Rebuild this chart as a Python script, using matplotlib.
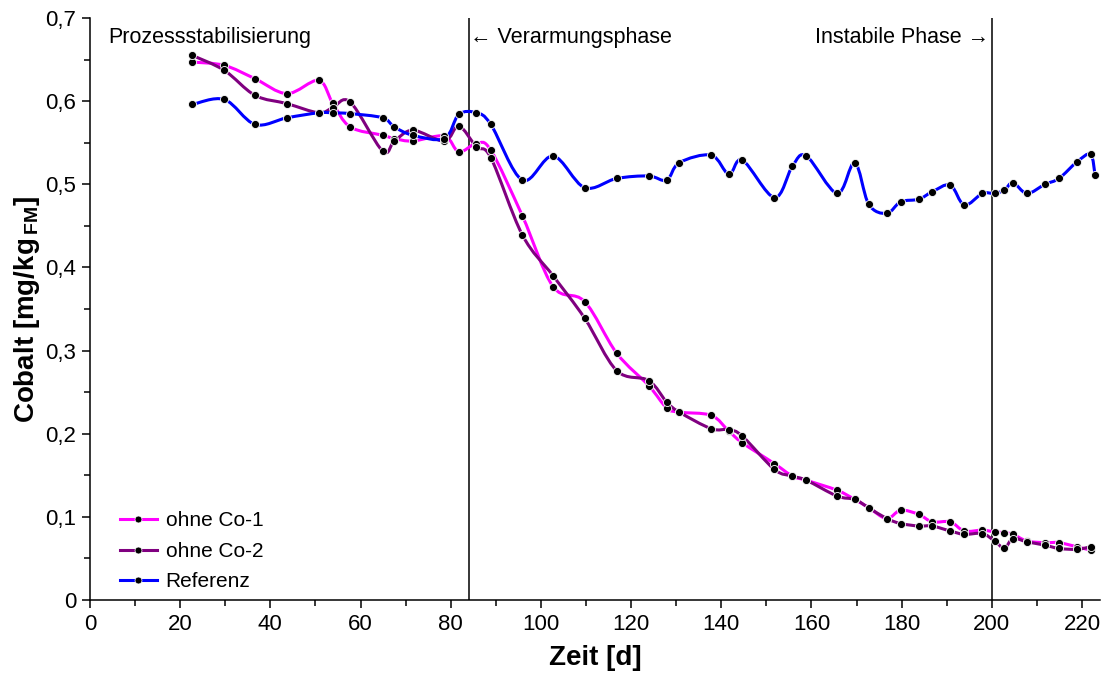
import matplotlib
matplotlib.use("Agg")
import matplotlib.pyplot as plt
import numpy as np
from matplotlib.path import Path
from matplotlib.patches import PathPatch
from matplotlib.lines import Line2D
from matplotlib.ticker import MultipleLocator, FuncFormatter

plt.rcParams['font.family'] = ['Liberation Sans', 'DejaVu Sans']
plt.rcParams['mathtext.fontset'] = 'custom'
plt.rcParams['mathtext.rm'] = 'Liberation Sans'
plt.rcParams['mathtext.bf'] = 'Liberation Sans:bold'

# Probenahmetage (d)
tage = [22.7, 29.8, 36.6, 43.7, 50.7, 53.8, 57.7, 64.9, 67.5, 71.6, 78.6, 81.8,
        85.7, 88.9, 95.9, 102.7, 109.7, 116.8, 123.9, 127.9, 130.7, 137.8, 141.7,
        144.7, 151.8, 155.8, 158.9, 165.7, 169.6, 172.7, 176.7, 179.8, 183.8,
        186.8, 190.8, 193.9, 197.9, 200.6, 202.8, 204.7, 207.8, 211.8, 214.9,
        218.9, 221.9]
tage_ref = tage[:-1] + [221.9, 222.9]

ohne_co1 = [0.647, 0.643, 0.627, 0.609, 0.625, 0.598, 0.569, 0.559, 0.555, 0.552,
            0.558, 0.539, 0.549, 0.541, 0.462, 0.377, 0.359, 0.297, 0.258, 0.231,
            0.226, 0.222, 0.203, 0.189, 0.164, 0.149, 0.144, 0.132, 0.121, 0.111,
            0.098, 0.108, 0.103, 0.094, 0.094, 0.083, 0.084, 0.082, 0.081, 0.079,
            0.071, 0.069, 0.069, 0.064, 0.060]
ohne_co2 = [0.655, 0.637, 0.607, 0.597, 0.586, 0.592, 0.599, 0.540, 0.552, 0.565,
            0.552, 0.570, 0.545, 0.532, 0.439, 0.390, 0.339, 0.276, 0.264, 0.238,
            0.226, 0.206, 0.205, 0.197, 0.157, 0.149, 0.144, 0.125, 0.121, 0.111,
            0.098, 0.092, 0.089, 0.089, 0.083, 0.079, 0.080, 0.071, 0.0625, 0.074,
            0.070, 0.066, 0.062, 0.061, 0.064]
referenz = [0.596, 0.602, 0.572, 0.580, 0.586, 0.586, 0.585, 0.580, 0.569, 0.559,
            0.555, 0.584, 0.586, 0.572, 0.505, 0.534, 0.496, 0.507, 0.510, 0.505,
            0.526, 0.535, 0.512, 0.529, 0.484, 0.522, 0.534, 0.489, 0.526, 0.476,
            0.465, 0.479, 0.482, 0.491, 0.499, 0.475, 0.489, 0.489, 0.493, 0.502,
            0.489, 0.500, 0.507, 0.527, 0.536, 0.511]

serien = [
    ("ohne Co-1", tage, ohne_co1, "#FF00FF"),
    ("ohne Co-2", tage, ohne_co2, "#800080"),
    ("Referenz", tage_ref, referenz, "#0000FF"),
]


def glatte_kurve(x, y):
    # Excel-artige Glättung (Catmull-Rom als Bezier)
    p = np.column_stack([x, y])
    n = len(p)
    verts = [p[0]]
    codes = [Path.MOVETO]
    for i in range(n - 1):
        p0 = p[i - 1] if i > 0 else p[i]
        p3 = p[i + 2] if i + 2 < n else p[i + 1]
        c1 = p[i] + (p[i + 1] - p0) / 6.0
        c2 = p[i + 1] - (p3 - p[i]) / 6.0
        verts += [c1, c2, p[i + 1]]
        codes += [Path.CURVE4] * 3
    return Path(verts, codes)


fig = plt.figure(figsize=(11.05, 6.79), dpi=100)
ax = fig.add_axes([0.0814, 0.1163, 0.9141, 0.8572])

handles = []
for i, (name, x, y, farbe) in enumerate(serien):
    patch = PathPatch(glatte_kurve(x, y), facecolor='none', edgecolor=farbe,
                      lw=2.2, zorder=2 + i)
    ax.add_patch(patch)
    ax.plot(x, y, ls='none', marker='o', ms=5.8, mfc='black', mec='white',
            mew=0.6, zorder=10)
    handles.append(Line2D([], [], color=farbe, lw=2.2, marker='o', ms=5,
                          mfc='black', mec='white', mew=0.5, label=name))

ax.axvline(84, color='black', lw=1.1, zorder=1)
ax.axvline(200, color='black', lw=1.1, zorder=1)

ax.text(4, 0.677, "Prozessstabilisierung", fontsize=15.5, va='center', ha='left')
ax.text(84.3, 0.677, "\u2190 Verarmungsphase", fontsize=15.5, va='center', ha='left')
ax.text(160.9, 0.677, "Instabile Phase \u2192", fontsize=15.5, va='center', ha='left')

ax.set_xlim(0, 224)
ax.set_ylim(0, 0.7)
ax.xaxis.set_major_locator(MultipleLocator(20))
ax.xaxis.set_minor_locator(MultipleLocator(10))
ax.yaxis.set_major_locator(MultipleLocator(0.1))
ax.yaxis.set_minor_locator(MultipleLocator(0.05))
ax.yaxis.set_major_formatter(FuncFormatter(lambda v, p: f"{v:.1f}".replace('.', ',') if v > 0 else "0"))
ax.tick_params(which='major', direction='out', length=6, width=1.1, labelsize=16, pad=4)
ax.tick_params(which='minor', direction='out', length=4, width=1.1)

for s in ['top', 'right']:
    ax.spines[s].set_visible(False)
for s in ['left', 'bottom']:
    ax.spines[s].set_linewidth(1.1)

ax.set_xlabel("Zeit [d]", fontsize=20, fontweight='bold', labelpad=7)
ax.set_ylabel(r"Cobalt [mg/kg$_{\,\mathbf{FM}}$]", fontsize=20, fontweight='bold', labelpad=2)

ax.legend(handles=handles, loc='lower left', bbox_to_anchor=(0.015, -0.01),
          frameon=False, fontsize=15, handlelength=1.8, labelspacing=0.55,
          handletextpad=0.4, borderaxespad=0.3)

fig.savefig("out.png", dpi=100)
